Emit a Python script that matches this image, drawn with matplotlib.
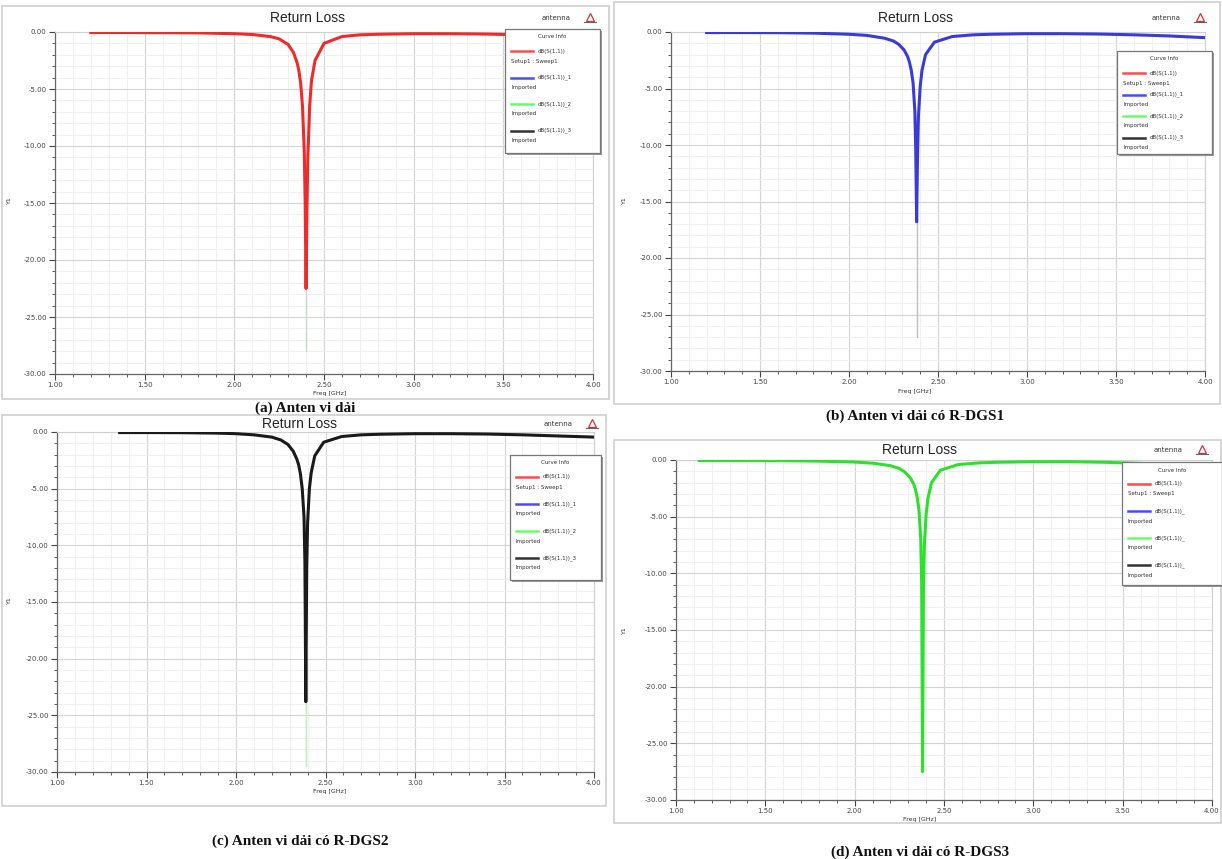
import matplotlib
matplotlib.use("Agg")
import matplotlib.pyplot as plt
from matplotlib.patches import Rectangle
from matplotlib.lines import Line2D
from matplotlib.ticker import MultipleLocator, FormatStrFormatter

W, H = 1222, 859

# ---------------- data ----------------
freq_a = [1.20, 1.40, 1.60, 1.80, 2.00, 2.10, 2.20, 2.25, 2.30, 2.33, 2.35, 2.36, 2.37, 2.38, 2.39, 2.395,
          2.40, 2.405, 2.41, 2.42, 2.43, 2.45, 2.50, 2.60, 2.70, 2.80, 3.00, 3.20, 3.40, 3.60, 3.80, 4.00]
s11_a = [-0.05, -0.05, -0.06, -0.08, -0.15, -0.22, -0.40, -0.60, -1.10, -1.80, -2.70, -3.40, -4.50, -6.50, -10.5, -15.0,
         -22.5, -15.5, -11.0, -6.5, -4.3, -2.5, -1.0, -0.40, -0.25, -0.20, -0.15, -0.15, -0.18, -0.25, -0.35, -0.50]

freq_b = [1.20, 1.40, 1.60, 1.80, 2.00, 2.10, 2.20, 2.25, 2.28, 2.31, 2.33, 2.34, 2.35, 2.36, 2.37, 2.375,
          2.38, 2.385, 2.39, 2.40, 2.41, 2.43, 2.48, 2.58, 2.70, 2.80, 3.00, 3.20, 3.40, 3.60, 3.80, 4.00]
s11_b = [-0.05, -0.05, -0.06, -0.10, -0.20, -0.30, -0.55, -0.80, -1.10, -1.60, -2.20, -2.70, -3.40, -4.50, -7.0, -10.5,
         -16.8, -11.0, -7.5, -4.8, -3.4, -2.0, -0.9, -0.40, -0.25, -0.20, -0.15, -0.15, -0.18, -0.25, -0.35, -0.50]

freq_c = [1.35, 1.50, 1.70, 1.90, 2.00, 2.10, 2.20, 2.25, 2.29, 2.32, 2.34, 2.35, 2.36, 2.37, 2.38, 2.385,
          2.39, 2.395, 2.40, 2.41, 2.42, 2.44, 2.49, 2.59, 2.70, 2.80, 3.00, 3.20, 3.40, 3.60, 3.80, 4.00]
s11_c = [-0.05, -0.05, -0.06, -0.10, -0.15, -0.25, -0.45, -0.70, -1.10, -1.70, -2.40, -2.90, -3.70, -5.0, -7.5, -11.5,
         -23.8, -12.0, -8.0, -5.0, -3.6, -2.1, -0.9, -0.40, -0.25, -0.20, -0.15, -0.15, -0.18, -0.25, -0.35, -0.45]

freq_d = [1.13, 1.40, 1.60, 1.80, 2.00, 2.10, 2.20, 2.25, 2.28, 2.31, 2.33, 2.34, 2.35, 2.36, 2.37, 2.375,
          2.38, 2.385, 2.39, 2.40, 2.41, 2.43, 2.48, 2.58, 2.70, 2.80, 3.00, 3.20, 3.40, 3.60, 3.80, 4.00]
s11_d = [-0.05, -0.05, -0.06, -0.10, -0.18, -0.28, -0.50, -0.75, -1.05, -1.55, -2.10, -2.60, -3.30, -4.40, -7.0, -11.0,
         -27.5, -11.5, -7.5, -4.8, -3.4, -2.0, -0.9, -0.40, -0.25, -0.20, -0.15, -0.15, -0.20, -0.30, -0.45, -0.60]

# faint deeper traces seen below the main dips
tail_freq = [2.40, 2.38, 2.39, None]
tail_depth = [-28.0, -27.0, -29.5, None]
tail_color = ["#c8d8c8", "#c0c0c0", "#b8f0b8", None]

captions = ["(a) Anten vi dải", "(b) Anten vi dải có R-DGS1",
            "(c) Anten vi dải có R-DGS2", "(d) Anten vi dải có R-DGS3"]
curve_colors = ["#ee2b2b", "#3a3ad8", "#1a1a1a", "#2ee02e"]
legend_colors = ["#ff4a4a", "#4a4aff", "#66ff66", "#333333"]
legend_names = ["dB(S(1,1))", "dB(S(1,1))_1", "dB(S(1,1))_2", "dB(S(1,1))_3"]
legend_names_d = ["dB(S(1,1))", "dB(S(1,1))_", "dB(S(1,1))_", "dB(S(1,1))_"]
legend_sub = ["Setup1 : Sweep1", "Imported", "Imported", "Imported"]
x_ticks = [1.00, 1.50, 2.00, 2.50, 3.00, 3.50, 4.00]
y_ticks = [0.0, -5.0, -10.0, -15.0, -20.0, -25.0, -30.0]

freqs = [freq_a, freq_b, freq_c, freq_d]
s11s = [s11_a, s11_b, s11_c, s11_d]

# ---------------- layout (pixels) ----------------
plot_px = [(55, 32, 593, 374), (671, 32, 1205, 371), (57, 432, 594, 772), (676, 460, 1212, 800)]
frame_px = [(2, 6, 609, 399), (614, 2, 1220, 404), (2, 415, 606, 806), (614, 440, 1221, 823)]
title_px = [(307, 18), (915, 18), (300, 424), (920, 450)]
antenna_px = [(556, 18), (1166, 18), (558, 424), (1168, 450)]
xlabel_px = [(330, 394), (915, 392), (330, 792), (920, 820)]
ylabel_px = [(9, 200), (624, 200), (9, 600), (624, 630)]
caption_px = [(305, 408), (915, 416), (300, 841), (920, 852)]
legend_px = [(505, 29, 95, 124, 26.5), (1117, 51, 95, 103, 21.5),
             (510, 455, 91, 125, 27), (1122, 462, 100, 123, 27)]

fig = plt.figure(figsize=(W / 100, H / 100), dpi=100)
fig.patch.set_facecolor("white")


def fx(x):
    return x / W


def fy(y):
    return 1 - y / H


for i in range(4):
    fl, ft, fr, fb = frame_px[i]
    fig.add_artist(Rectangle((fx(fl), fy(fb)), fx(fr - fl), (fb - ft) / H, transform=fig.transFigure,
                             facecolor="white", edgecolor="#cfcfcf", lw=1.2, zorder=0))

for i in range(4):
    xl, yt, xr, yb = plot_px[i]
    ax = fig.add_axes([fx(xl), fy(yb), fx(xr - xl), (yb - yt) / H])
    ax.set_xlim(1.0, 4.0)
    ax.set_ylim(-30, 0)
    ax.xaxis.set_minor_locator(MultipleLocator(0.1))
    ax.yaxis.set_minor_locator(MultipleLocator(1))
    ax.set_xticks(x_ticks)
    ax.set_yticks(y_ticks)
    ax.xaxis.set_major_formatter(FormatStrFormatter("%.2f"))
    ax.yaxis.set_major_formatter(FormatStrFormatter("%.2f"))
    ax.grid(which="major", color="#d4d4d4", lw=0.8)
    ax.grid(which="minor", color="#eeeeee", lw=0.6)
    ax.set_axisbelow(True)
    ax.tick_params(which="both", labelsize=5, colors="#444444", pad=2)
    ax.tick_params(which="major", length=4)
    ax.tick_params(which="minor", length=2)
    for s in ["top", "right"]:
        ax.spines[s].set_color("#d0d0d0")
    for s in ["left", "bottom"]:
        ax.spines[s].set_color("#666666")
        ax.spines[s].set_linewidth(0.9)
    if tail_freq[i] is not None:
        ax.plot([tail_freq[i], tail_freq[i]], [min(s11s[i]), tail_depth[i]],
                color=tail_color[i], lw=1.0, zorder=2)
    ax.plot(freqs[i], s11s[i], color=curve_colors[i], lw=2.2, zorder=3, solid_joinstyle="round")

    tx, ty = title_px[i]
    fig.text(fx(tx), fy(ty), "Return Loss", ha="center", va="center", fontsize=10,
             family="Liberation Sans", color="#222222")
    axx, axy = antenna_px[i]
    fig.text(fx(axx), fy(axy), "antenna", ha="center", va="center", fontsize=5, color="#333333")
    fig.add_artist(Line2D([fx(axx + 34)], [fy(axy - 1)], marker="^", markersize=6, markerfacecolor="none",
                          markeredgecolor="#cc3333", markeredgewidth=0.9, transform=fig.transFigure))
    fig.add_artist(Line2D([fx(axx + 28), fx(axx + 40)], [fy(axy + 4), fy(axy + 4)], color="#666666",
                          lw=0.8, transform=fig.transFigure))
    lx, ly = xlabel_px[i]
    fig.text(fx(lx), fy(ly), "Freq [GHz]", ha="center", va="center", fontsize=4.5, color="#333333")
    yx, yy = ylabel_px[i]
    fig.text(fx(yx), fy(yy), "Y1", ha="center", va="center", fontsize=4.5, rotation=90, color="#333333")
    cx, cy = caption_px[i]
    fig.text(fx(cx), fy(cy), captions[i], ha="center", va="center", fontsize=11,
             family="Liberation Serif", weight="bold", color="#111111")

    bx, by, bw, bh, sp = legend_px[i]
    fig.add_artist(Rectangle((fx(bx + 2), fy(by + bh + 2)), fx(bw), bh / H, transform=fig.transFigure,
                             facecolor="#9a9a9a", edgecolor="none", zorder=5))
    fig.add_artist(Rectangle((fx(bx), fy(by + bh)), fx(bw), bh / H, transform=fig.transFigure,
                             facecolor="white", edgecolor="#777777", lw=0.9, zorder=6))
    fig.text(fx(bx + bw / 2), fy(by + 8), "Curve Info", ha="center", va="center", fontsize=4,
             color="#333333", zorder=7)
    names = legend_names_d if i == 3 else legend_names
    for k in range(4):
        yk = by + 22 + k * sp
        fig.add_artist(Line2D([fx(bx + 6), fx(bx + 28)], [fy(yk), fy(yk)], color=legend_colors[k], lw=1.8,
                              transform=fig.transFigure, zorder=7))
        fig.text(fx(bx + 33), fy(yk), names[k], ha="left", va="center", fontsize=4, color="#333333", zorder=7)
        fig.text(fx(bx + 6), fy(yk + 10), legend_sub[k], ha="left", va="center", fontsize=4,
                 color="#333333", zorder=7)

fig.savefig("out.png", dpi=100)
